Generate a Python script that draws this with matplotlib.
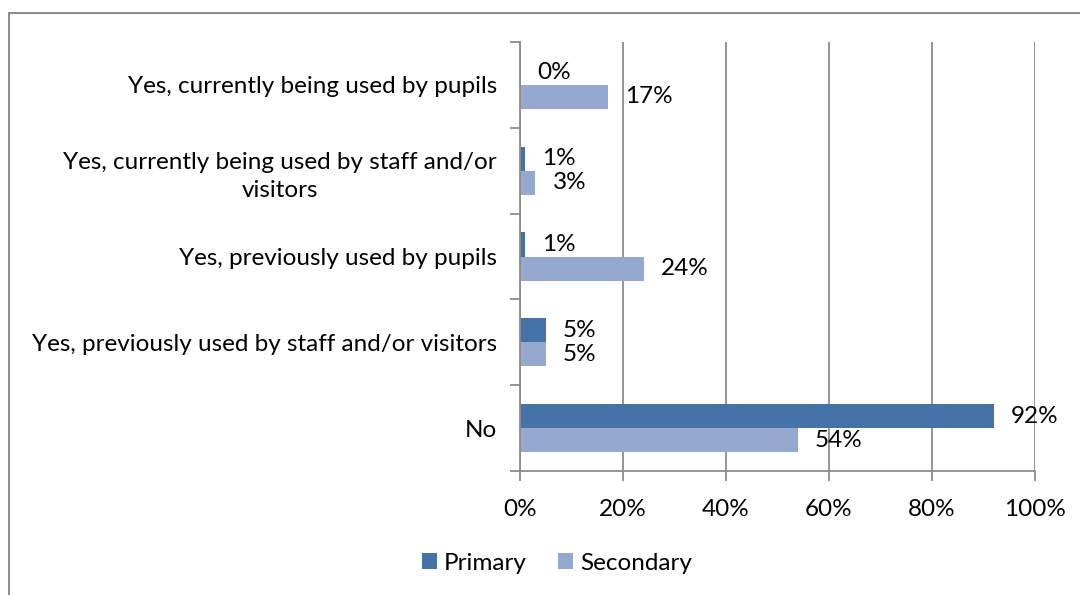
import matplotlib.pyplot as plt
from matplotlib.patches import Rectangle
import numpy as np

plt.rcParams['font.family'] = ['Lato', 'DejaVu Sans']

categories = ['Yes, currently being used by pupils',
              'Yes, currently being used by staff and/or\nvisitors',
              'Yes, previously used by pupils',
              'Yes, previously used by staff and/or visitors',
              'No']
primary = [0, 1, 1, 5, 92]
secondary = [17, 3, 24, 5, 54]
xticks = [0, 20, 40, 60, 80, 100]

darkBlue = '#4572A7'
lightBlue = '#95A8D0'
gridGrey = '#8C8C8C'
fs = 17.5

fig = plt.figure(figsize=(10.8, 5.95), dpi=100)
ax = fig.add_axes([520 / 1080, 1 - 471 / 595, 515 / 1080, 429 / 595])

# outer chart border, runs off the right and bottom edges
fig.patches.append(Rectangle((9 / 1080, -0.1), 1.2, 1 - 13 / 595 + 0.1,
                             transform=fig.transFigure, fill=False,
                             edgecolor='#8A8A8A', linewidth=1.4))

pos = np.arange(len(categories))
barH = 0.28
ax.barh(pos - barH / 2, primary, height=barH, color=darkBlue, label='Primary')
ax.barh(pos + barH / 2, secondary, height=barH, color=lightBlue, label='Secondary')

for i in range(len(categories)):
    ax.annotate('%d%%' % primary[i], (primary[i], pos[i] - barH / 2),
                xytext=(17, 0), textcoords='offset pixels',
                va='center', ha='left', fontsize=fs)
    ax.annotate('%d%%' % secondary[i], (secondary[i], pos[i] + barH / 2),
                xytext=(17, 0), textcoords='offset pixels',
                va='center', ha='left', fontsize=fs)

ax.set_xlim(0, 100)
ax.set_ylim(len(categories) - 0.5, -0.5)
ax.set_xticks(xticks)
ax.set_xticklabels(['%d%%' % t for t in xticks], fontsize=fs)
ax.set_yticks(np.arange(-0.5, len(categories), 1.0))
ax.set_yticklabels([])
ax.set_yticks(pos, minor=True)
ax.set_yticklabels(categories, minor=True, fontsize=fs, ha='right',
                   multialignment='center', linespacing=1.45)
ax.tick_params(axis='y', which='minor', length=0, pad=16.5)
ax.tick_params(axis='y', which='major', length=7, color=gridGrey, width=1.3)
ax.tick_params(axis='x', length=7, color=gridGrey, width=1.3, pad=13)

ax.grid(axis='x', color=gridGrey, linewidth=1.3)
ax.set_axisbelow(True)
for s in ['top', 'right']:
    ax.spines[s].set_visible(False)
for s in ['left', 'bottom']:
    ax.spines[s].set_color(gridGrey)
    ax.spines[s].set_linewidth(1.3)

ax.legend(loc='center', bbox_to_anchor=(557 / 1080, 1 - 563 / 595),
          bbox_transform=fig.transFigure, ncol=2, frameon=False,
          fontsize=fs, handlelength=0.6, handleheight=0.6,
          handletextpad=0.3, columnspacing=1.3)

fig.savefig('out.png', dpi=100)
